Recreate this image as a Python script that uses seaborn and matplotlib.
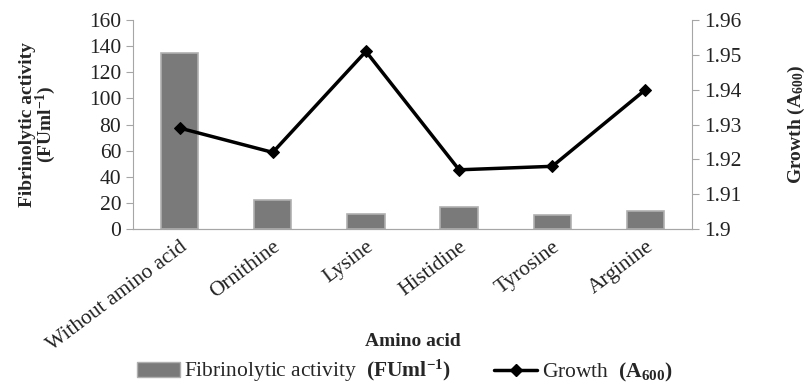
import numpy as np
import pandas as pd
import matplotlib
matplotlib.use("Agg")
import matplotlib.pyplot as plt
import seaborn as sns
from matplotlib.lines import Line2D
from matplotlib.patches import Patch

# DATA
amino_acids = ['Without amino acid', 'Ornithine', 'Lysine', 'Histidine', 'Tyrosine', 'Arginine']
fibrinolytic = [135, 22, 11.5, 16.5, 10.5, 14]
growth = [1.929, 1.922, 1.951, 1.917, 1.918, 1.940]

sns.set_style('ticks')
plt.rcParams['font.family'] = ['Liberation Serif', 'DejaVu Serif']
plt.rcParams['mathtext.fontset'] = 'custom'
plt.rcParams['mathtext.rm'] = 'Liberation Serif'
plt.rcParams['mathtext.bf'] = 'Liberation Serif:bold'
plt.rcParams['mathtext.it'] = 'Liberation Serif:italic'

df = pd.DataFrame({'amino': amino_acids, 'fib': fibrinolytic, 'growth': growth})

fig = plt.figure(figsize=(8.09, 3.92), dpi=100)
ax = fig.add_axes([0.1644, 0.4158, 0.691, 0.533])

sns.barplot(data=df, x='amino', y='fib', ax=ax, color='#7a7a7a', width=0.4,
            edgecolor='#b0b0b0', linewidth=1.2, saturation=1)
ax.set_ylim(0, 160)
ax.set_yticks(range(0, 161, 20))
ax.set_xlim(-0.5, 5.5)

ax2 = ax.twinx()
sns.lineplot(data=df, x='amino', y='growth', ax=ax2, sort=False, color='black',
             linewidth=2.5, marker='D', markersize=6.5, markeredgecolor='black')
ax2.set_ylim(1.9, 1.96)
ax2.set_yticks([1.9, 1.91, 1.92, 1.93, 1.94, 1.95, 1.96])
ax2.set_yticklabels(['1.9', '1.91', '1.92', '1.93', '1.94', '1.95', '1.96'])
ax2.set_xlim(-0.5, 5.5)

gray = '#a6a6a6'
for a in (ax, ax2):
    a.spines['top'].set_visible(False)
    for s in ('left', 'right', 'bottom'):
        a.spines[s].set_color(gray)
    a.tick_params(colors='#222222', labelsize=15.5, length=5)
    a.tick_params(axis='y', color=gray)
ax2.spines['left'].set_visible(False)
ax.spines['right'].set_visible(False)
ax.tick_params(axis='x', length=0, pad=6)

ax.set_xticks(range(len(amino_acids)))
ax.set_xticklabels(amino_acids, rotation=37, ha='right', rotation_mode='anchor', fontsize=15.5)

ax.set_xlabel('Amino acid', fontsize=14, fontweight='bold')
ax.xaxis.set_label_coords(0.5, -0.5)
ax.set_ylabel('Fibrinolytic activity\n(FUml$^{\\mathbf{-1}}$)', fontsize=14,
              fontweight='bold', linespacing=0.9, labelpad=22)
ax2.set_ylabel('Growth (A$_{\\mathbf{600}}$)', fontsize=14, fontweight='bold', labelpad=32)

handles = [Patch(facecolor='#7a7a7a', edgecolor='#b0b0b0'),
           Line2D([], [], color='black', linewidth=2.5, marker='D', markersize=6.5)]
labels = ['Fibrinolytic activity  $\\mathbf{(FUml^{-1})}$', 'Growth  $\\mathbf{(A_{600})}$']
fig.legend(handles, labels, loc='lower center', bbox_to_anchor=(0.5, -0.03), ncol=2,
           frameon=False, fontsize=15.5, handlelength=2.0, handletextpad=0.2,
           columnspacing=2.0)

fig.savefig('out.png', dpi=100)
